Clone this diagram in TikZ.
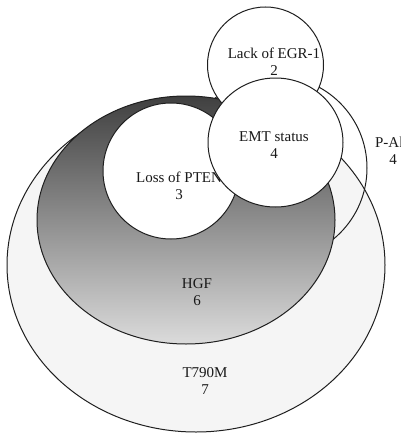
\documentclass[tikz,border=0pt]{standalone}
\usepackage{fontspec}
\setmainfont{Liberation Serif}
\begin{document}
\begin{tikzpicture}[x=1pt,y=-1pt,
  outline/.style={draw=black!88,line width=1pt},
  lbl/.style={align=center,anchor=base,inner sep=0pt,font=\fontsize{15}{17}\selectfont,text=black!90}]
\useasboundingbox (0,0) rectangle (400,436);
% T790M
\path[outline,fill=black!4] (196,265) ellipse [x radius=189pt,y radius=167pt];
% P-Akt
\path[outline] (275,168) circle [radius=92pt];
% HGF
\path[outline,top color=black!75,middle color=black!50,bottom color=black!14] (186,220) ellipse [x radius=149pt,y radius=124pt];
% Loss of PTEN
\path[outline,fill=white] (171,171) circle [radius=68pt];
\node[lbl] (pten) at (179,199) {Loss of PTEN\\3};
% Lack of EGR-1
\path[outline,fill=white] (265.5,65) circle [radius=58pt];
\node[lbl] (egr) at (274,75) {Lack of EGR-1\\2};
% EMT status
\path[outline,fill=white] (275.5,142.5) ellipse [x radius=67.5pt,y radius=64.5pt];
\node[lbl] (emt) at (274,158) {EMT status\\4};
% other labels
\node[lbl] (pakt) at (393,164) {P-Akt\\4};
\node[lbl] (hgf) at (197,305) {HGF\\6};
\node[lbl] (t790m) at (205,394) {T790M\\7};
\end{tikzpicture}
\end{document}
